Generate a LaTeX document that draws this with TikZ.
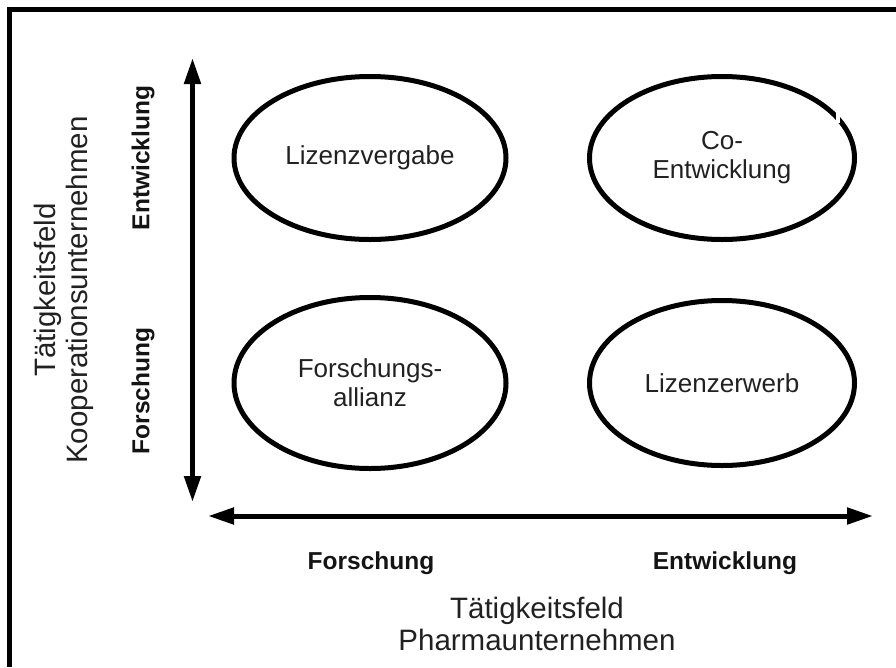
\documentclass[tikz,border=0pt]{standalone}
\usepackage{fontspec}
\setmainfont{Liberation Sans}
\usetikzlibrary{arrows.meta,shapes.geometric}
\begin{document}
\begin{tikzpicture}[x=1pt,y=-1pt,
  frame/.style={line width=5pt,line join=miter},
  axis/.style={line width=5pt,
    {Triangle[length=26pt,width=16pt]}-{Triangle[length=26pt,width=16pt]}},
  field/.style={ellipse,draw,line width=5pt,align=center,inner sep=0pt,
    font=\fontsize{26}{29}\selectfont,text=black!87},
  axislabel/.style={font=\bfseries\fontsize{24.5}{28}\selectfont,text=black!92},
  title/.style={align=center,font=\fontsize{29.5}{32}\selectfont,text=black!87}]
\useasboundingbox (0,0) rectangle (896,667);

% frame (top and left edges)
\draw[frame] (896,9) -- (9.5,9) -- (9.5,667);

% axes
\coordinate (ybot) at (192.5,502);
\coordinate (ytop) at (192.5,58);
\coordinate (xleft) at (208,516);
\coordinate (xright) at (873,516);
\draw[axis] (ybot) -- (ytop);
\draw[axis] (xleft) -- (xright);

% the four fields of cooperation
\node[field,minimum width=272pt,minimum height=163pt] (lv) at (370,158) {Lizenzvergabe};
\node[field,minimum width=265pt,minimum height=163pt] (ce) at (722,158) {Co-\\Entwicklung};
\node[field,minimum width=272pt,minimum height=171pt] (fa) at (370,383) {Forschungs-\\allianz};
\node[field,minimum width=265pt,minimum height=165pt] (le) at (722,383) {Lizenzerwerb};
\fill[white] (836,113) rectangle (839.5,123);

% axis labels
\node[axislabel,rotate=90] (ye) at (143,158) {Entwicklung};
\node[axislabel,rotate=90] (yf) at (143,391) {Forschung};
\node[axislabel] (xf) at (371,563) {Forschung};
\node[axislabel] (xe) at (725,563) {Entwicklung};

% axis titles
\node[title,rotate=90] (ytitle) at (64,290) {Tätigkeitsfeld\\Kooperationsunternehmen};
\node[title] (xtitle) at (537,624) {Tätigkeitsfeld\\Pharmaunternehmen};
\end{tikzpicture}
\end{document}
